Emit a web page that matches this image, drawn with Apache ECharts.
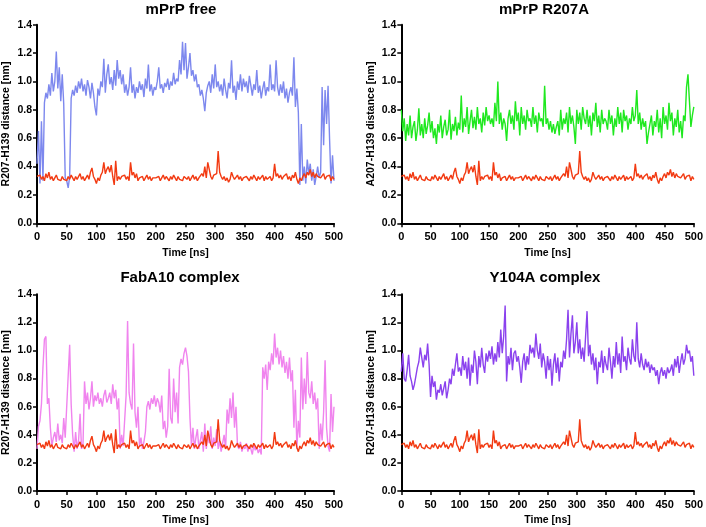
<!DOCTYPE html>
<html>
<head>
<meta charset="utf-8">
<script src="https://cdn.jsdelivr.net/npm/echarts@6/dist/echarts.min.js"></script>
<style>html,body{margin:0;padding:0;background:#fff;}#c{width:706px;height:527px;}</style>
</head>
<body>
<div id="c"></div>
<script>
// Time points [ns]
var times = [
0,2.5,5,7.5,10,12.5,15,17.5,20,22.5,25,27.5,30,32.5,35,37.5,40,42.5,45,47.5,
50,52.5,55,57.5,60,62.5,65,67.5,70,72.5,75,77.5,80,82.5,85,87.5,90,92.5,95,97.5,
100,102.5,105,107.5,110,112.5,115,117.5,120,122.5,125,127.5,130,132.5,135,137.5,140,142.5,145,147.5,
150,152.5,155,157.5,160,162.5,165,167.5,170,172.5,175,177.5,180,182.5,185,187.5,190,192.5,195,197.5,
200,202.5,205,207.5,210,212.5,215,217.5,220,222.5,225,227.5,230,232.5,235,237.5,240,242.5,245,247.5,
250,252.5,255,257.5,260,262.5,265,267.5,270,272.5,275,277.5,280,282.5,285,287.5,290,292.5,295,297.5,
300,302.5,305,307.5,310,312.5,315,317.5,320,322.5,325,327.5,330,332.5,335,337.5,340,342.5,345,347.5,
350,352.5,355,357.5,360,362.5,365,367.5,370,372.5,375,377.5,380,382.5,385,387.5,390,392.5,395,397.5,
400,402.5,405,407.5,410,412.5,415,417.5,420,422.5,425,427.5,430,432.5,435,437.5,440,442.5,445,447.5,
450,452.5,455,457.5,460,462.5,465,467.5,470,472.5,475,477.5,480,482.5,485,487.5,490,492.5,495,497.5,500
];

// Reference distance (red), shared by all panels
var refDist = [
0.33,0.32,0.34,0.31,0.33,0.30,0.35,0.32,0.36,0.31,0.33,0.30,0.32,0.34,0.31,0.32,0.30,0.33,0.31,0.32,
0.30,0.33,0.31,0.34,0.32,0.30,0.33,0.31,0.32,0.35,0.31,0.33,0.30,0.32,0.34,0.31,0.36,0.39,0.33,0.31,
0.28,0.32,0.30,0.34,0.36,0.43,0.35,0.38,0.40,0.36,0.41,0.33,0.27,0.44,0.30,0.33,0.31,0.33,0.32,0.34,
0.31,0.33,0.30,0.43,0.34,0.36,0.32,0.35,0.30,0.32,0.31,0.33,0.30,0.32,0.34,0.31,0.33,0.30,0.32,0.31,
0.32,0.31,0.33,0.30,0.32,0.34,0.31,0.33,0.32,0.30,0.33,0.31,0.34,0.32,0.30,0.33,0.31,0.32,0.30,0.33,
0.32,0.31,0.33,0.30,0.32,0.34,0.31,0.33,0.30,0.32,0.31,0.35,0.33,0.40,0.32,0.43,0.43,0.33,0.31,0.34,
0.33,0.35,0.51,0.36,0.33,0.31,0.33,0.30,0.32,0.29,0.31,0.36,0.33,0.31,0.32,0.34,0.31,0.33,0.30,0.32,
0.31,0.33,0.32,0.30,0.33,0.31,0.34,0.32,0.30,0.33,0.31,0.32,0.34,0.30,0.33,0.31,0.32,0.33,0.30,0.32,
0.42,0.33,0.35,0.32,0.34,0.31,0.33,0.32,0.35,0.31,0.33,0.30,0.34,0.32,0.36,0.31,0.28,0.32,0.30,0.33,
0.35,0.32,0.36,0.34,0.38,0.33,0.36,0.32,0.35,0.33,0.34,0.32,0.33,0.35,0.31,0.33,0.32,0.34,0.30,0.33,0.31
];

// mPrP free (blue)
var freeDist = [
0.42,0.65,0.28,0.72,0.30,0.85,0.92,0.88,0.98,0.90,1.06,0.93,1.00,1.21,0.95,1.10,0.86,1.05,0.84,0.32,
0.30,0.25,0.33,0.88,0.94,0.90,0.97,0.92,1.00,0.95,1.02,0.93,0.98,0.90,1.01,0.96,0.88,0.99,0.92,0.82,
0.76,0.95,0.90,1.00,0.96,1.16,0.92,1.05,1.12,0.98,1.03,0.94,1.08,0.97,1.15,1.02,1.08,0.98,1.05,0.92,
0.98,0.90,0.96,1.10,0.92,0.98,0.88,0.96,0.92,1.00,0.94,0.98,0.89,1.02,0.95,1.12,0.93,0.98,0.90,0.96,
0.94,1.00,1.10,0.95,0.98,0.92,0.99,0.96,1.02,0.94,1.00,0.97,1.06,0.98,1.02,1.00,1.15,1.05,1.28,1.08,
1.27,1.02,1.10,1.20,1.04,1.08,1.00,1.05,0.96,0.98,0.90,0.94,0.88,0.79,0.92,0.97,1.00,0.92,1.05,0.95,
1.12,0.96,1.00,0.93,0.98,0.90,1.02,0.94,0.88,0.99,0.95,1.15,0.92,0.97,0.87,1.00,0.94,1.05,0.93,1.02,
0.96,1.00,0.92,1.04,0.97,0.90,0.98,0.94,1.08,0.92,0.97,0.88,0.95,1.00,0.90,0.96,0.93,1.12,0.94,0.98,
0.93,1.15,0.96,0.90,0.98,0.92,1.00,0.88,0.95,0.85,0.92,0.96,0.90,1.17,0.82,0.95,0.78,0.27,0.70,0.30,
0.40,0.28,0.45,0.35,0.42,0.30,0.38,0.27,0.33,0.40,0.32,0.36,0.96,0.55,0.94,0.70,0.97,0.60,0.28,0.48,0.30
];

// mPrP R207A (green)
var r207aDist = [
0.80,0.65,0.74,0.58,0.70,0.62,0.76,0.60,0.68,0.72,0.58,0.66,0.81,0.62,0.70,0.60,0.74,0.63,0.69,0.78,
0.64,0.72,0.60,0.67,0.56,0.70,0.64,0.76,0.60,0.68,0.73,0.62,0.66,0.80,0.59,0.70,0.65,0.75,0.62,0.71,
0.66,0.90,0.64,0.74,0.68,0.82,0.63,0.72,0.80,0.67,0.75,0.66,0.82,0.70,0.74,0.64,0.78,0.69,0.82,0.72,
0.76,0.70,0.74,0.68,0.85,0.72,1.00,0.70,0.78,0.66,0.74,0.70,0.58,0.74,0.80,0.70,0.76,0.66,0.86,0.72,
0.78,0.62,0.82,0.70,0.76,0.66,0.80,0.72,0.74,0.68,0.82,0.70,0.76,0.64,0.78,0.72,0.74,0.68,0.97,0.70,
0.74,0.66,0.72,0.64,0.70,0.63,0.68,0.72,0.62,0.80,0.66,0.74,0.70,0.78,0.64,0.82,0.70,0.76,0.68,0.56,
0.80,0.70,0.78,0.66,0.82,0.74,0.70,0.80,0.68,0.76,0.62,0.78,0.72,0.85,0.68,0.76,0.64,0.80,0.70,0.74,
0.72,0.66,0.80,0.70,0.76,0.62,0.74,0.68,0.82,0.70,0.78,0.64,0.80,0.72,0.76,0.66,0.74,0.70,0.82,0.72,
0.76,0.94,0.70,0.78,0.66,0.74,0.68,0.72,0.56,0.64,0.70,0.76,0.62,0.72,0.68,0.80,0.64,0.74,0.60,0.82,
0.70,0.76,0.66,0.85,0.72,0.78,0.62,0.74,0.68,0.80,0.64,0.72,0.60,0.76,0.72,0.96,1.05,0.86,0.68,0.76,0.82
];

// FabA10 complex (pink)
var fabDist = [
0.30,0.46,0.50,0.62,0.88,1.08,1.10,0.62,0.66,0.45,0.32,0.38,0.42,0.35,0.48,0.36,0.40,0.34,0.52,0.38,
0.60,0.82,1.04,0.62,0.40,0.28,0.42,0.30,0.36,0.55,0.30,0.34,0.78,0.62,0.70,0.58,0.66,0.78,0.60,0.68,
0.64,0.70,0.62,0.66,0.60,0.68,0.72,0.63,0.66,0.70,0.62,0.76,0.66,0.72,0.58,0.66,0.30,0.40,0.32,0.50,
0.68,1.21,0.70,0.62,0.58,1.05,0.56,0.45,0.60,0.32,0.38,0.30,0.35,0.42,0.60,0.64,0.58,0.66,0.62,0.68,
0.60,0.66,0.63,0.56,0.68,0.44,0.50,0.38,0.46,0.87,0.52,0.48,0.80,0.56,0.70,0.48,0.88,0.94,0.90,0.98,
1.02,0.96,0.85,0.52,0.32,0.45,0.30,0.38,0.44,0.30,0.36,0.42,0.28,0.48,0.30,0.40,0.34,0.46,0.30,0.38,
0.32,0.44,0.30,0.36,0.28,0.34,0.40,0.30,0.58,0.48,0.66,0.52,0.70,0.45,0.60,0.32,0.30,0.35,0.28,0.32,
0.30,0.34,0.28,0.32,0.30,0.26,0.33,0.29,0.31,0.27,0.30,0.26,0.88,0.80,0.90,0.72,0.92,0.86,0.98,0.90,
1.12,0.95,1.02,0.90,1.00,0.88,0.96,0.84,0.92,0.80,0.95,0.78,0.86,0.45,0.72,0.30,0.50,0.38,0.95,0.58,
0.80,0.62,0.99,0.70,0.66,0.78,0.62,0.70,0.58,0.66,0.30,0.48,0.36,0.56,0.93,0.45,0.32,0.28,0.69,0.42,0.60
];

// Y104A complex (purple)
var y104aDist = [
0.85,0.98,0.80,0.78,0.86,0.97,0.82,0.78,0.72,0.76,0.82,0.88,0.92,1.02,0.95,0.88,0.97,0.93,1.05,0.90,
0.67,0.82,0.74,0.78,0.65,0.72,0.70,0.76,0.68,0.73,0.78,0.66,0.72,0.80,0.76,0.87,0.82,0.90,0.98,0.85,
0.88,0.82,0.96,0.86,0.92,0.80,0.95,0.75,0.90,0.84,1.00,0.92,0.76,0.96,0.88,1.02,0.90,0.84,0.98,0.92,
1.00,0.94,1.03,0.90,0.98,0.92,1.06,0.95,1.15,0.98,1.10,1.32,0.78,0.96,0.90,1.02,0.86,0.98,1.00,0.92,
0.96,0.88,0.77,0.92,0.98,0.86,0.96,0.90,1.04,0.98,1.02,0.95,1.12,1.00,0.94,1.05,0.88,0.98,0.92,0.80,
0.96,0.86,0.94,0.75,0.90,0.98,0.84,0.95,0.78,0.92,0.88,1.00,0.94,1.08,1.29,0.95,1.12,1.25,0.98,1.06,
1.20,0.98,1.08,0.94,1.02,0.92,1.10,1.28,0.96,1.04,0.90,0.98,0.86,0.95,0.76,0.92,0.88,1.00,0.84,0.96,
0.90,0.86,1.02,0.92,0.80,0.96,0.88,1.06,0.90,0.98,0.84,1.10,0.92,0.96,0.86,1.02,0.94,0.90,1.08,0.96,
0.92,1.20,0.94,0.88,0.98,0.90,0.86,0.94,0.88,0.92,0.84,0.90,0.86,0.88,0.82,0.86,0.76,0.84,0.88,0.82,
0.86,0.80,0.88,0.84,0.86,0.90,0.82,0.94,0.88,0.96,0.84,0.92,0.98,0.90,0.94,1.04,0.98,1.00,0.92,0.96,0.82
];

var panelTitles = ['mPrP free', 'mPrP R207A', 'FabA10 complex', 'Y104A complex'];
var yNames = ['R207-H139 distance [nm]', 'A207-H139 distance [nm]', 'R207-H139 distance [nm]', 'R207-H139 distance [nm]'];
var xName = 'Time [ns]';
var panelData = [freeDist, r207aDist, fabDist, y104aDist];
var panelColors = ['#7d88ee', '#1fe81f', '#f084ee', '#8b42ee'];
var refColor = '#f23a12';

function pairs(vals) {
  var out = [];
  for (var i = 0; i < times.length && i < vals.length; i++) out.push([times[i], vals[i]]);
  return out;
}

var FONT = 'Liberation Sans, Arial, sans-serif';
var grids = [
  {left: 36, top: 24.7, width: 298, height: 198.6},
  {left: 401.3, top: 24.7, width: 297.4, height: 198.6},
  {left: 36, top: 294.3, width: 298, height: 198.7},
  {left: 401.3, top: 294.3, width: 297.4, height: 198.7}
];
var titleCenters = [[176, -3], [539, -3], [175, 265], [540, 265]];

var option = {
  animation: false,
  backgroundColor: '#fff',
  title: panelTitles.map(function (t, i) {
    return {text: t, left: titleCenters[i][0], top: titleCenters[i][1], textAlign: 'center',
      textStyle: {fontFamily: FONT, fontWeight: 'bold', fontSize: 15, color: '#000'}};
  }),
  grid: grids,
  xAxis: grids.map(function (g, i) {
    return {type: 'value', gridIndex: i, min: 0, max: 500, interval: 50,
      name: xName, nameLocation: 'middle', nameGap: 24,
      nameTextStyle: {fontFamily: FONT, fontWeight: 'bold', fontSize: 10.5, color: '#000'},
      axisLine: {show: true, onZero: false, lineStyle: {color: '#000', width: 2}},
      axisTick: {show: true, length: 4, lineStyle: {color: '#000', width: 1.5}},
      axisLabel: {fontFamily: FONT, fontWeight: 'bold', fontSize: 11, color: '#000', margin: 8},
      splitLine: {show: false}};
  }),
  yAxis: grids.map(function (g, i) {
    return {type: 'value', gridIndex: i, min: 0, max: 1.4, interval: 0.2,
      name: yNames[i], nameLocation: 'middle', nameGap: 25,
      nameTextStyle: {fontFamily: FONT, fontWeight: 'bold', fontSize: 10.5, color: '#000'},
      axisLine: {show: true, onZero: false, lineStyle: {color: '#000', width: 2}},
      axisTick: {show: true, length: 4, lineStyle: {color: '#000', width: 1.5}},
      axisLabel: {fontFamily: FONT, fontWeight: 'bold', fontSize: 10.5, color: '#000', margin: 5,
        formatter: function (v) { return v.toFixed(1); }},
      splitLine: {show: false}};
  }),
  series: []
};

panelData.forEach(function (vals, i) {
  option.series.push({type: 'line', xAxisIndex: i, yAxisIndex: i, data: pairs(vals),
    showSymbol: false, symbol: 'none', lineStyle: {color: panelColors[i], width: 1.4}, z: 2});
});
panelData.forEach(function (vals, i) {
  option.series.push({type: 'line', xAxisIndex: i, yAxisIndex: i, data: pairs(refDist),
    showSymbol: false, symbol: 'none', lineStyle: {color: refColor, width: 1.4}, z: 3});
});

var chart = echarts.init(document.getElementById('c'), null, {renderer: 'canvas'});
chart.setOption(option);
</script>
</body>
</html>
